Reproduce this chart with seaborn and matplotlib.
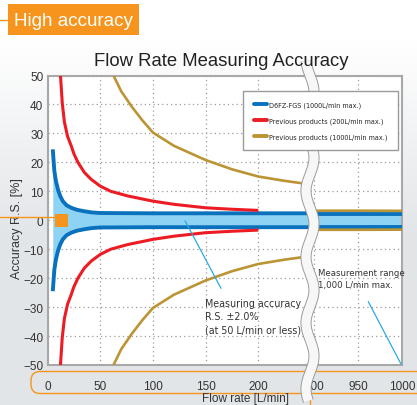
import os
import numpy as np
import matplotlib.pyplot as plt
import seaborn as sns
from matplotlib import font_manager, transforms
from matplotlib.font_manager import FontProperties
from matplotlib.lines import Line2D
from matplotlib.patches import Rectangle, FancyBboxPatch
from matplotlib.colors import LinearSegmentedColormap

# values (upper limits, lower limits are the mirror)
fgs_x = [5, 6.5, 8, 10, 12, 14.5, 18, 22.5, 28, 35, 42, 50, 100, 150, 200, 249]
fgs_y = [24.5, 17, 13.5, 10.5, 8.4, 6.6, 5.2, 4.3, 3.6, 3.1, 2.7, 2.5, 2.4, 2.4, 2.4, 2.4]
fgs_x_hi = [895, 950, 1000]
fgs_y_hi = [2.3, 2.3, 2.3]

prev200_x = [12.3, 14, 16, 19, 22.5, 25, 29, 35, 41.5, 50, 60, 76, 100, 120, 150, 175, 200]
prev200_y = [50, 40.5, 34, 29, 25.7, 23, 19.9, 16.5, 14.1, 11.8, 10, 8.4, 6.6, 5.5, 4.3, 3.8, 3.4]

prev1000_x = [62.6, 70, 80, 90, 100, 120, 150, 175, 200, 225, 245]
prev1000_y = [50, 44.5, 39.2, 34.5, 30.3, 25.7, 20.8, 17.6, 15.1, 13.6, 12.6]
prev1000_x_hi = [895, 950, 1000]
prev1000_y_hi = [3.3, 3.3, 3.25]

series_labels = ['D6FZ-FGS (1000L/min max.)',
                 'Previous products (200L/min max.)',
                 'Previous products (1000L/min max.)']
left_ticks = [0, 50, 100, 150, 200]
right_ticks = [900, 950, 1000]
y_ticks = list(range(-50, 51, 10))

BLUE = '#0a72bd'
LIGHT = '#8fd3f4'
RED = '#ec1c24'
GOLD = '#bb9433'
ORANGE = '#f7941d'
GRID = '#9c9c9c'
SPINE = '#a8a8a8'
TXT = '#333333'

sns.set_style('white')
plt.rcParams['font.family'] = ['Liberation Sans', 'DejaVu Sans']


def narrow_font():
    # the small print in the reference is a condensed face; use one if installed
    found = []
    for f in font_manager.fontManager.ttflist:
        base = os.path.basename(f.fname)
        tag = f.name + ' ' + base
        if f.style != 'normal' or f.weight not in (400, 'normal', 'regular'):
            continue
        if 'Mono' in tag or 'Serif' in tag:
            continue
        if 'Narrow' in tag or 'Condensed' in tag or f.stretch in ('condensed', 'semi-condensed'):
            found.append(f)
    found.sort(key=lambda f: 0 if 'Liberation' in f.name else 1)
    if found:
        return FontProperties(fname=found[0].fname)
    return FontProperties(family='Liberation Sans')


W, H = 417, 406
fig = plt.figure(figsize=(W / 100, H / 100), dpi=100)
renderer = fig.canvas.get_renderer()
# pixel coordinates, origin top-left, for the decorations
px = transforms.Affine2D().scale(1 / W, -1 / H).translate(0, 1) + fig.transFigure


def fitted(fp, text, target):
    probe = fp.copy()
    probe.set_size(10)
    t = fig.text(0, 0, text, fontproperties=probe)
    w = t.get_window_extent(renderer).width
    t.remove()
    out = fp.copy()
    out.set_size(10 * target / w)
    return out


small = narrow_font()
leg_fp = fitted(small, series_labels[2], 119)
note_fp = fitted(small, '(at 50 L/min or less)', 96)
range_fp = fitted(small, 'Measurement range', 86)
title_fp = fitted(FontProperties(family='Liberation Sans'), 'Flow Rate Measuring Accuracy', 256)

# soft grey background
bg = fig.add_axes([0, 0, 1, 1], zorder=-10)
cmap = LinearSegmentedColormap.from_list('bg', ['#ffffff', '#e2e5e8'])
shade = np.clip((np.arange(H) - 40) / 200, 0, 1)[:, None] * np.ones((1, W))
bg.imshow(shade, cmap=cmap, aspect='auto', extent=[0, 1, 0, 1], vmin=0, vmax=1)
bg.axis('off')


def box(x0, x1, y0=76.5, y1=366):
    return [x0 / W, 1 - y1 / H, (x1 - x0) / W, (y1 - y0) / H]


axl = fig.add_axes(box(47.5, 310))
axr = fig.add_axes(box(310, 402))

neg = lambda v: [-a for a in v]

# left part 0-250 L/min
axl.fill_between(fgs_x, neg(fgs_y), fgs_y, color=LIGHT, lw=0, zorder=1)
for ys in (fgs_y, neg(fgs_y)):
    sns.lineplot(x=fgs_x, y=ys, ax=axl, color=BLUE, lw=2.8, legend=False, solid_capstyle='butt', zorder=3)
for ys in (prev200_y, neg(prev200_y)):
    sns.lineplot(x=prev200_x, y=ys, ax=axl, color=RED, lw=2.2, legend=False, solid_capstyle='butt', zorder=3)
for ys in (prev1000_y, neg(prev1000_y)):
    sns.lineplot(x=prev1000_x, y=ys, ax=axl, color=GOLD, lw=1.9, legend=False, solid_capstyle='butt', zorder=3)

# right part 900-1000 L/min
axr.fill_between(fgs_x_hi, neg(fgs_y_hi), fgs_y_hi, color=LIGHT, lw=0, zorder=1)
for ys in (fgs_y_hi, neg(fgs_y_hi)):
    sns.lineplot(x=fgs_x_hi, y=ys, ax=axr, color=BLUE, lw=2.8, legend=False, solid_capstyle='butt', zorder=3)
for ys in (prev1000_y_hi, neg(prev1000_y_hi)):
    sns.lineplot(x=prev1000_x_hi, y=ys, ax=axr, color=GOLD, lw=1.9, legend=False, solid_capstyle='butt', zorder=3)

axl.set_xlim(0, 249)
axr.set_xlim(895, 1000)
axl.set_xticks(left_ticks)
axr.set_xticks(right_ticks)
for ax in (axl, axr):
    ax.set_facecolor('white')
    ax.set_ylim(-50, 50)
    ax.set_yticks(y_ticks)
    ax.grid(True, ls=(0, (1, 2.5)), color=GRID, lw=0.9)
    ax.set_axisbelow(True)
    ax.tick_params(length=0, labelsize=8.5, labelcolor=TXT)
    ax.tick_params(axis='x', pad=10.5)
    ax.set_xlabel('')
    ax.set_ylabel('')
    for s in ax.spines.values():
        s.set_color(SPINE)
        s.set_linewidth(1.5)
axl.tick_params(axis='y', pad=3)
axr.tick_params(axis='y', labelleft=False)
axl.spines['right'].set_visible(False)
axr.spines['left'].set_visible(False)

# legend
fs = leg_fp.get_size_in_points() * 100 / 72
handles = [Line2D([], [], color=c, lw=2.8) for c in (BLUE, RED, GOLD)]
fig.legend(handles, series_labels, loc='upper left', bbox_to_anchor=(243.3 / W, 1 - 92.3 / H),
           prop=leg_fp, frameon=True, fancybox=False, edgecolor='#9a9a9a', framealpha=1,
           handlelength=13.4 / fs, handletextpad=1.8 / fs, labelspacing=(17.5 - 1.15 * fs) / fs,
           borderpad=10.5 / fs, borderaxespad=0)

# titles and axis labels
fig.text(221 / W, 1 - 61 / H, 'Flow Rate Measuring Accuracy', ha='center', va='center',
         fontproperties=title_fp, color='#222222')
fig.text(17.3 / W, 1 - 229 / H, 'Accuracy R.S. [%]', rotation=90, ha='center', va='center',
         fontsize=9, color=TXT)
fig.text(246 / W, 1 - 405.5 / H, 'Flow rate [L/min]', ha='center', va='bottom',
         fontsize=8.5, color=TXT)

# "High accuracy" tag
fig.add_artist(Rectangle((8, 5), 131, 31, transform=px, color=ORANGE, lw=0))
fig.add_artist(Line2D([0, 8], [21, 21], transform=px, color=ORANGE, lw=1))
fig.text(73.5 / W, 1 - 21 / H, 'High accuracy', ha='center', va='center',
         fontsize=13.5, color='white')

# orange marker at zero and its leader
fig.add_artist(Line2D([0, 55], [217.5, 217.5], transform=px, color=ORANGE, lw=1, zorder=4))
fig.add_artist(Rectangle((55, 215), 13.3, 12.7, transform=px, color=ORANGE, lw=0, zorder=4))

# orange frame round the x tick labels
fig.add_artist(FancyBboxPatch((31, 372.5), 400, 22, transform=px, fill=False,
                              edgecolor=ORANGE, lw=1,
                              boxstyle='round,pad=0,rounding_size=9', zorder=1))
fig.add_artist(Line2D([310, 310], [394.5, 406], transform=px, color=ORANGE, lw=1, zorder=1))

# annotations
fig.text(205 / W, 1 - 317.2 / H, 'Measuring accuracy\nR.S. \u00b12.0%\n(at 50 L/min or less)',
         ha='left', va='center', fontproperties=note_fp, color=TXT, linespacing=1.4)
fig.text(318.3 / W, 1 - 279.5 / H, 'Measurement range\n1,000 L/min max.',
         ha='left', va='center', fontproperties=range_fp, color=TXT, linespacing=1.5)
fig.add_artist(Line2D([185, 221], [221.7, 289.3], transform=px, color='#29abe2', lw=0.9, zorder=4))
fig.add_artist(Line2D([368.3, 401], [302.7, 365], transform=px, color='#29abe2', lw=0.9, zorder=4))

# axis break wave
wy = np.linspace(62, 402, 400)
wx = 310 + 4 * np.cos(2 * np.pi * (wy - 225) / 66)
fig.add_artist(Line2D(wx, wy, transform=px, color='#9a9a9a', lw=8, zorder=2,
                      solid_capstyle='butt'))
fig.add_artist(Line2D(wx, wy, transform=px, color='#f7f7f7', lw=6.6, zorder=2,
                      solid_capstyle='butt'))

fig.savefig('out.png', dpi=100)
